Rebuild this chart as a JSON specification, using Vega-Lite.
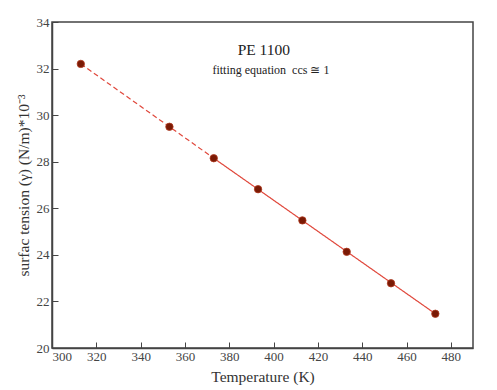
{
  "$schema": "https://vega.github.io/schema/vega-lite/v6.json",
  "width": 421,
  "height": 326,
  "autosize": {"type": "none"},
  "padding": {"left": 52, "top": 22, "right": 24, "bottom": 42},
  "background": "white",
  "config": {
    "view": {"stroke": "#444", "strokeWidth": 1.5},
    "font": "Liberation Serif",
    "axis": {
      "grid": false,
      "domainColor": "#444",
      "domainWidth": 1.5,
      "tickColor": "#444",
      "labelFont": "Liberation Serif",
      "labelFontSize": 13,
      "labelColor": "#444",
      "titleFont": "Liberation Serif",
      "titleFontSize": 15.5,
      "titleFontWeight": "normal",
      "titleColor": "#333"
    }
  },
  "datasets": {
    "pts": [
      {"T": 313, "g": 32.2},
      {"T": 353, "g": 29.5},
      {"T": 373, "g": 28.15},
      {"T": 393, "g": 26.82},
      {"T": 413, "g": 25.48},
      {"T": 433, "g": 24.13},
      {"T": 453, "g": 22.78},
      {"T": 473, "g": 21.47}
    ],
    "fit": [
      {"T": 313, "g": 32.2, "seg": "extrap"},
      {"T": 373, "g": 28.15, "seg": "extrap"},
      {"T": 373, "g": 28.15, "seg": "fit"},
      {"T": 473, "g": 21.47, "seg": "fit"}
    ],
    "notes": [
      {"T": 395.6, "g": 32.8, "txt": "PE 1100", "kind": "title"},
      {"T": 398.8, "g": 31.94, "txt": "fitting equation\u00a0\u00a0ccs\u00a0≅\u00a01", "kind": "sub"}
    ]
  },
  "layer": [
    {
      "data": {"name": "fit"},
      "mark": {"type": "line", "color": "#e0483c", "strokeWidth": 1.2},
      "encoding": {
        "x": {
          "field": "T", "type": "quantitative",
          "scale": {"domain": [300, 490], "nice": false, "zero": false},
          "axis": {
            "title": "Temperature (K)",
            "values": [300, 310, 320, 330, 340, 350, 360, 370, 380, 390, 400, 410, 420, 430, 440, 450, 460, 470, 480],
            "labelExpr": "datum.value % 20 === 0 ? datum.label : ''",
            "tickSize": {"condition": {"test": "datum.value % 20 === 0", "value": -6}, "value": -3},
            "labelPadding": 8,
            "titlePadding": 6
          }
        },
        "y": {
          "field": "g", "type": "quantitative",
          "scale": {"domain": [20, 34], "nice": false, "zero": false},
          "axis": {
            "title": "surfac tension (γ) (N/m)*10⁻³",
            "values": [20, 21, 22, 23, 24, 25, 26, 27, 28, 29, 30, 31, 32, 33, 34],
            "labelExpr": "datum.value % 2 === 0 ? datum.label : ''",
            "tickSize": {"condition": {"test": "datum.value % 2 === 0", "value": -6}, "value": -3},
            "labelPadding": 9,
            "titlePadding": 5
          }
        },
        "detail": {"field": "seg"},
        "strokeDash": {
          "field": "seg", "type": "nominal",
          "scale": {"domain": ["extrap", "fit"], "range": [[5, 3], [1, 0]]},
          "legend": null
        }
      }
    },
    {
      "data": {"name": "pts"},
      "mark": {"type": "point", "filled": true, "size": 55, "color": "#7a1a05", "stroke": "#b03a20", "strokeWidth": 0.8, "opacity": 1},
      "encoding": {
        "x": {"field": "T", "type": "quantitative"},
        "y": {"field": "g", "type": "quantitative"}
      }
    },
    {
      "data": {"name": "notes"},
      "mark": {"type": "text", "font": "Liberation Serif", "color": "#222", "align": "center", "baseline": "middle"},
      "encoding": {
        "x": {"field": "T", "type": "quantitative"},
        "y": {"field": "g", "type": "quantitative"},
        "text": {"field": "txt"},
        "size": {
          "field": "kind", "type": "nominal",
          "scale": {"domain": ["title", "sub"], "range": [15.5, 12]},
          "legend": null
        }
      }
    }
  ]
}
